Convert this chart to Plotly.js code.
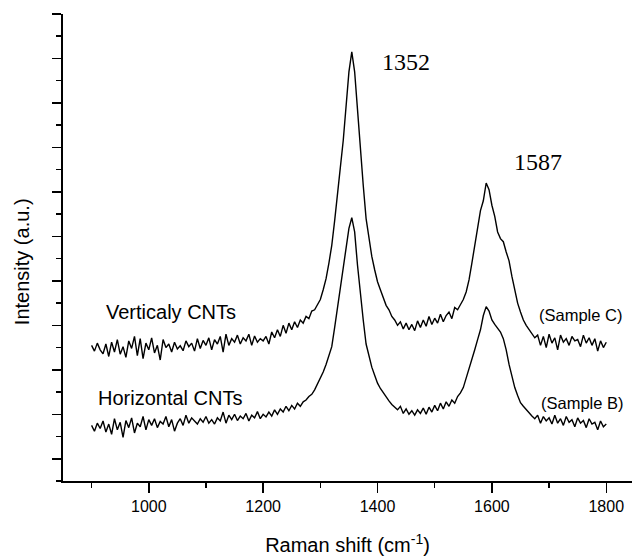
<!DOCTYPE html>
<html>
<head>
<meta charset="utf-8">
<script src="https://cdn.plot.ly/plotly-3.0.1.min.js"></script>
<style>html,body{margin:0;padding:0;background:#fff;}#chart{width:632px;height:556px;}</style>
</head>
<body>
<div id="chart"></div>
<script>
// Raman shift grid (cm^-1), 900..1800 step 5
var shiftStart = 900, shiftStep = 5;

// Sample C (vertically aligned CNTs), arbitrary units
var sampleC = [
3.05,2.92,3.10,2.95,2.86,3.08,2.80,3.12,2.90,3.18,
2.85,3.02,2.78,3.15,2.98,3.25,2.82,3.20,2.75,3.10,
2.95,3.22,2.88,3.05,2.72,3.18,3.00,3.08,2.90,3.12,
2.97,3.04,2.93,3.15,3.02,3.10,2.92,3.20,2.98,3.16,
3.05,3.22,2.95,3.18,3.08,3.25,2.90,3.30,3.05,3.20,
3.12,3.28,3.08,3.22,3.15,3.30,3.05,3.26,3.12,3.20,
3.15,3.25,3.08,3.35,3.22,3.40,3.25,3.50,3.32,3.55,
3.40,3.58,3.45,3.62,3.55,3.70,3.65,3.82,3.85,3.98,
4.08,4.30,4.55,4.90,5.30,5.85,6.40,7.05,7.65,8.40,
9.20,9.65,9.20,8.35,7.45,6.65,5.90,5.45,5.05,4.75,
4.48,4.30,4.12,3.95,3.85,3.70,3.62,3.50,3.58,3.42,
3.55,3.40,3.52,3.38,3.60,3.45,3.62,3.48,3.70,3.52,
3.66,3.55,3.75,3.58,3.72,3.80,3.65,3.90,3.85,3.98,
4.08,4.25,4.52,4.90,5.30,5.70,6.08,6.30,6.70,6.55,
6.20,5.95,5.60,5.45,5.38,5.15,4.95,4.60,4.28,4.00,
3.80,3.62,3.50,3.40,3.30,3.22,3.28,3.05,3.25,3.00,
3.30,3.10,3.22,2.95,3.28,3.12,3.20,3.05,3.25,3.15,
3.18,3.02,3.28,3.10,3.22,3.05,3.20,2.92,3.15,3.00,
3.12
];

// Sample B (horizontally aligned CNTs), arbitrary units
var sampleB = [
1.25,1.12,1.30,1.18,1.35,1.10,1.28,1.05,1.40,1.15,
1.32,0.98,1.36,1.20,1.42,1.08,1.30,1.22,1.45,1.15,
1.38,1.25,1.40,1.20,1.34,1.28,1.45,1.22,1.38,1.12,
1.30,1.40,1.25,1.48,1.30,1.42,1.35,1.28,1.40,1.32,
1.45,1.30,1.38,1.28,1.42,1.35,1.55,1.30,1.48,1.38,
1.50,1.36,1.46,1.40,1.52,1.35,1.48,1.42,1.56,1.40,
1.50,1.44,1.55,1.46,1.60,1.50,1.62,1.55,1.68,1.58,
1.70,1.62,1.75,1.68,1.78,1.82,1.90,1.95,2.05,2.18,
2.32,2.45,2.62,2.80,3.02,3.45,3.90,4.35,4.80,5.30,
5.68,5.92,5.60,4.85,4.18,3.62,3.08,2.80,2.56,2.38,
2.20,2.08,1.98,1.88,1.80,1.72,1.66,1.60,1.68,1.52,
1.62,1.50,1.58,1.48,1.60,1.52,1.64,1.50,1.66,1.55,
1.70,1.58,1.75,1.62,1.78,1.68,1.82,1.75,1.90,1.98,
2.10,2.30,2.55,2.75,2.95,3.18,3.40,3.72,3.92,3.82,
3.62,3.52,3.42,3.35,3.20,2.95,2.62,2.35,2.10,1.92,
1.76,1.68,1.60,1.52,1.46,1.40,1.48,1.30,1.45,1.35,
1.42,1.28,1.48,1.30,1.40,1.25,1.45,1.32,1.38,1.22,
1.42,1.30,1.36,1.20,1.40,1.28,1.32,1.15,1.35,1.22,
1.28
];

var peakLabels = ["1352", "1587"];
var curveLabels = ["Verticaly CNTs", "Horizontal CNTs"];
var sampleLabels = ["(Sample C)", "(Sample B)"];

var shifts = sampleC.map(function(_, i){ return shiftStart + i*shiftStep; });

var lineStyle = {color:'#000', width:1.4};
var traces = [
  {x: shifts, y: sampleC, type:'scatter', mode:'lines', line: lineStyle, hoverinfo:'skip'},
  {x: shifts, y: sampleB, type:'scatter', mode:'lines', line: lineStyle, hoverinfo:'skip'}
];

var sans = 'Liberation Sans, Arial, sans-serif';
var serif = 'Liberation Serif, Times New Roman, serif';

function ann(text, x, y, size, fam){
  return {text:text, x:x, y:y, xref:'x', yref:'y', xanchor:'left', yanchor:'middle',
          showarrow:false, font:{family:fam, size:size, color:'#000'}};
}

var layout = {
  width:632, height:556,
  margin:{l:63, r:0, t:14, b:75},
  paper_bgcolor:'#fff', plot_bgcolor:'#fff',
  showlegend:false,
  xaxis:{
    range:[850,1845], showgrid:false, zeroline:false,
    showline:true, linecolor:'#000', linewidth:2,
    tickmode:'linear', tick0:0, dtick:200,
    ticks:'outside', ticklen:10, tickwidth:1.5, tickcolor:'#000',
    minor:{dtick:100, tick0:0, ticks:'outside', ticklen:5, tickwidth:1.5, tickcolor:'#000', showgrid:false},
    tickfont:{family:sans, size:16, color:'#000'},
    title:{text:'Raman shift (cm<sup>-1</sup>)', font:{family:sans, size:20, color:'#000'}, standoff:24}
  },
  yaxis:{
    range:[0,10.5], showgrid:false, zeroline:false,
    showline:true, linecolor:'#000', linewidth:2,
    tickmode:'linear', tick0:0.5, dtick:1,
    ticks:'outside', ticklen:9, tickwidth:1.5, tickcolor:'#000',
    minor:{dtick:0.5, tick0:0, ticks:'outside', ticklen:5, tickwidth:1.5, tickcolor:'#000', showgrid:false},
    showticklabels:false
  },
  annotations:[
    ann(peakLabels[0], 1405, 9.42, 24, serif),
    ann(peakLabels[1], 1635, 7.17, 24, serif),
    ann(curveLabels[0], 921, 3.80, 20, sans),
    ann(curveLabels[1], 907, 1.87, 20, sans),
    ann(sampleLabels[0], 1679, 3.73, 16.5, sans),
    ann(sampleLabels[1], 1682, 1.75, 16.5, sans),
    {text:'Intensity (a.u.)', xref:'paper', x:0, xshift:-41, xanchor:'center',
     yref:'y', y:4.92, yanchor:'middle', textangle:-90, showarrow:false,
     font:{family:sans, size:20, color:'#000'}}
  ]
};

Plotly.newPlot('chart', traces, layout, {staticPlot:true, displayModeBar:false});
</script>
</body>
</html>
